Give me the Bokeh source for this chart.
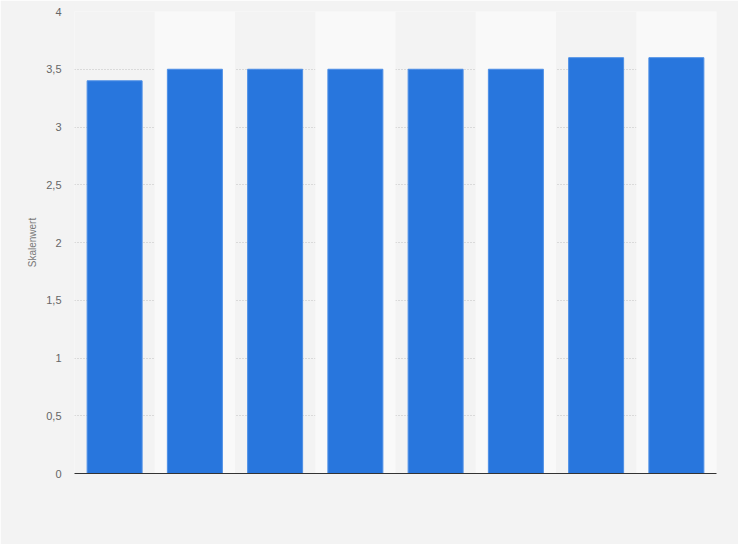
from bokeh.plotting import figure
from bokeh.models import FactorRange, Range1d, FixedTicker, ColumnDataSource
from bokeh.embed import file_html
from bokeh.resources import INLINE

categories = ["1", "2", "3", "4", "5", "6", "7", "8"]
values = [3.4, 3.5, 3.5, 3.5, 3.5, 3.5, 3.6, 3.6]
y_ticks = [0, 0.5, 1, 1.5, 2, 2.5, 3, 3.5, 4]
y_tick_labels = ["0", "0,5", "1", "1,5", "2", "2,5", "3", "3,5", "4"]
y_label = "Skalenwert"

BG = "#f3f3f3"
BAND = "#f9f9f9"
FONT = "Liberation Sans"

p = figure(
    width=738, height=544,
    x_range=FactorRange(*categories, range_padding=0),
    y_range=Range1d(0, 4),
    output_backend="svg", toolbar_location=None,
    min_border_left=74, min_border_right=22, min_border_top=11, min_border_bottom=71,
)
p.background_fill_color = BG
p.border_fill_color = BG
p.outline_line_color = None

band_src = ColumnDataSource(dict(x=categories[1::2], top=[y_ticks[-1]] * len(categories[1::2])))
p.vbar(x="x", top="top", bottom=0, width=1.0, source=band_src,
       fill_color=BAND, line_color=None)

src = ColumnDataSource(dict(x=categories, top=values))
p.vbar(x="x", top="top", bottom=0, width=0.685, source=src,
       fill_color="#2876dd", line_color="#4d8fe6", line_width=1)

p.xgrid.grid_line_color = None
p.ygrid.ticker = FixedTicker(ticks=y_ticks[1:])
p.ygrid.grid_line_color = "#c0c0c0"
p.ygrid.grid_line_dash = "1 2"
p.ygrid.grid_line_width = 1

p.yaxis.ticker = FixedTicker(ticks=y_ticks)
p.yaxis.major_label_overrides = {t: l for t, l in zip(y_ticks, y_tick_labels)}
p.yaxis.axis_line_color = None
p.yaxis.major_tick_line_color = None
p.yaxis.minor_tick_line_color = None
p.yaxis.major_tick_out = 0
p.yaxis.major_tick_in = 0
p.yaxis.major_label_text_color = "#666666"
p.yaxis.major_label_text_font = FONT
p.yaxis.major_label_text_font_size = "11px"
p.yaxis.major_label_standoff = 13
p.yaxis.axis_label = y_label
p.yaxis.axis_label_text_font = FONT
p.yaxis.axis_label_text_font_size = "10px"
p.yaxis.axis_label_text_font_style = "normal"
p.yaxis.axis_label_text_color = "#777777"
p.yaxis.axis_label_standoff = 5

p.xaxis.axis_line_color = "#333333"
p.xaxis.axis_line_width = 1
p.xaxis.major_tick_line_color = None
p.xaxis.minor_tick_line_color = None
p.xaxis.major_tick_out = 0
p.xaxis.major_label_text_font_size = "0px"
p.xaxis.major_label_text_color = None

open("out.html", "w").write(file_html(p, INLINE))
